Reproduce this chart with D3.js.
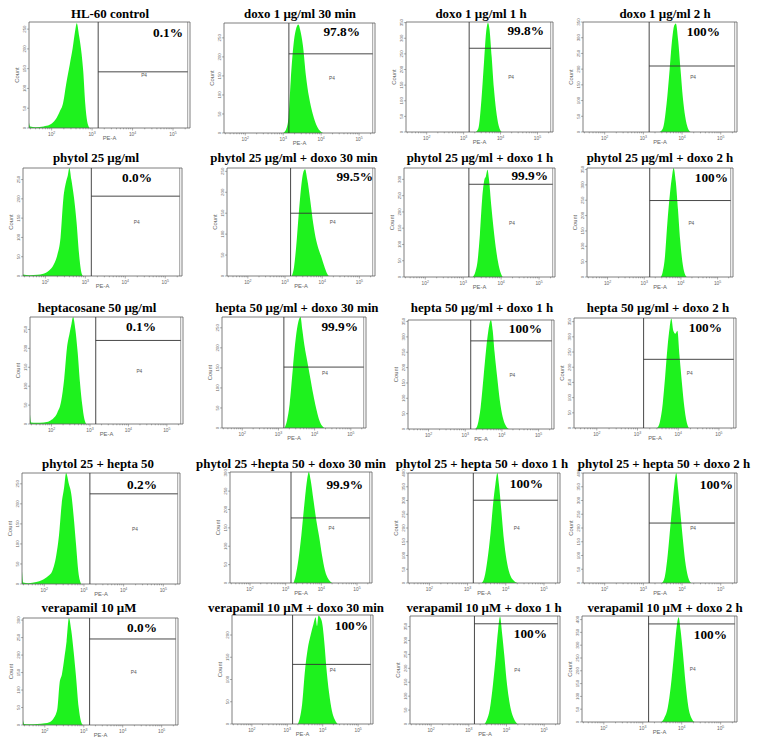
<!DOCTYPE html>
<html><head><meta charset="utf-8">
<script src="https://cdn.jsdelivr.net/npm/d3@7"></script>
<style>body{margin:0;background:#fff}svg{display:block}</style>
</head><body><svg id="c" width="757" height="748"></svg>
<script>
// ---------- data ----------
const titles = [
  "HL-60 control","doxo 1 \u00b5g/ml 30 min","doxo 1 \u00b5g/ml 1 h","doxo 1 \u00b5g/ml 2 h",
  "phytol 25 \u00b5g/ml","phytol 25 \u00b5g/ml + doxo 30 min","phytol 25 \u00b5g/ml + doxo 1 h","phytol 25 \u00b5g/ml + doxo 2 h",
  "heptacosane 50 \u00b5g/ml","hepta 50 \u00b5g/ml + doxo 30 min","hepta 50 \u00b5g/ml + doxo 1 h","hepta 50 \u00b5g/ml + doxo 2 h",
  "phytol 25 + hepta 50","phytol 25 +hepta 50 + doxo 30 min","phytol 25 + hepta 50 + doxo 1 h","phytol 25 + hepta 50 + doxo 2 h",
  "verapamil 10 \u00b5M","verapamil 10 \u00b5M + doxo 30 min","verapamil 10 \u00b5M + doxo 1 h","verapamil 10 \u00b5M + doxo 2 h"
];
const percents = ["0.1%","97.8%","99.8%","100%","0.0%","99.5%","99.9%","100%","0.1%","99.9%","100%","100%","0.2%","99.9%","100%","100%","0.0%","100%","100%","100%"];
const yMax = [268,289,352,350,280,258,335,355,283,277,355,362,277,302,400,400,306,245,388,414];
const gateLog = 3.15;                 // P4 gate lower bound (log10 PE-A)
const gateCount = [142,208,268,210,207,150,285,249,221,152,287,226,225,177,301,218,246,134,360,383];
const xDomainLog = [1.44, 5.42];      // PE-A axis range (log10)
const xTickExp = [2,3,4,5];
// histograms: [log10 PE-A, count]
const h11 = [[1.44,14],[1.47,4],[1.6,2],[1.8,4],[1.95,8],[2.1,22],[2.2,42],[2.28,62],[2.36,112],[2.45,162],[2.52,202],[2.58,245],[2.62,265],[2.68,232],[2.74,188],[2.78,145],[2.83,62],[2.88,16],[2.94,0]];
const h12 = [[3.0,0],[3.08,10],[3.14,40],[3.2,140],[3.27,230],[3.33,270],[3.4,285],[3.45,270],[3.52,230],[3.6,150],[3.68,95],[3.78,50],[3.9,16],[4.05,0]];
const h13 = [[3.33,0],[3.4,12],[3.48,100],[3.55,220],[3.61,320],[3.66,350],[3.7,330],[3.76,240],[3.82,140],[3.88,70],[3.95,20],[4.03,0]];
const h14 = [[3.42,0],[3.5,10],[3.6,90],[3.68,200],[3.74,290],[3.8,340],[3.84,345],[3.9,290],[3.96,200],[4.02,110],[4.08,50],[4.15,12],[4.22,0]];
const h21 = [[1.44,4],[1.6,2],[1.8,3],[1.95,6],[2.1,15],[2.2,28],[2.3,55],[2.38,100],[2.45,200],[2.52,245],[2.56,260],[2.6,280],[2.65,250],[2.72,200],[2.78,140],[2.84,60],[2.9,10],[2.94,0]];
const h22 = [[3.18,0],[3.24,20],[3.3,70],[3.38,160],[3.45,225],[3.5,250],[3.54,255],[3.6,230],[3.68,180],[3.76,125],[3.84,85],[3.92,60],[3.98,45],[4.05,25],[4.12,8],[4.18,0]];
const h23 = [[3.25,0],[3.32,15],[3.38,50],[3.44,130],[3.5,240],[3.56,300],[3.6,310],[3.64,330],[3.68,300],[3.74,220],[3.8,150],[3.86,90],[3.92,45],[3.98,15],[4.04,0]];
const h24 = [[3.45,0],[3.5,15],[3.56,60],[3.63,175],[3.7,270],[3.76,330],[3.8,355],[3.86,310],[3.92,220],[3.98,120],[4.04,50],[4.1,12],[4.16,0]];
const h31 = [[1.44,25],[1.47,4],[1.6,3],[1.8,4],[1.95,8],[2.05,15],[2.15,30],[2.25,60],[2.33,120],[2.4,200],[2.47,240],[2.52,265],[2.56,283],[2.62,250],[2.68,190],[2.74,110],[2.8,50],[2.85,15],[2.9,0]];
const h32 = [[3.17,0],[3.24,20],[3.31,60],[3.4,150],[3.48,225],[3.55,265],[3.61,277],[3.66,245],[3.72,205],[3.8,165],[3.88,125],[3.96,85],[4.04,50],[4.12,22],[4.2,6],[4.27,0]];
const h33 = [[3.27,0],[3.34,15],[3.42,70],[3.5,170],[3.57,260],[3.63,320],[3.7,355],[3.75,320],[3.8,250],[3.87,170],[3.94,95],[4.02,40],[4.1,12],[4.19,0]];
const h34 = [[3.48,0],[3.55,20],[3.62,80],[3.68,170],[3.74,270],[3.79,330],[3.83,360],[3.88,320],[3.93,310],[3.98,320],[4.03,240],[4.09,150],[4.15,70],[4.2,25],[4.26,0]];
const h41 = [[1.44,32],[1.47,4],[1.6,2],[1.8,5],[1.95,10],[2.1,20],[2.2,32],[2.3,70],[2.37,120],[2.44,200],[2.5,240],[2.55,277],[2.62,250],[2.68,225],[2.74,170],[2.8,100],[2.86,30],[2.93,0]];
const h42 = [[3.22,0],[3.28,20],[3.36,65],[3.44,130],[3.52,210],[3.6,280],[3.65,302],[3.7,280],[3.78,225],[3.86,170],[3.94,125],[4.02,75],[4.1,35],[4.2,10],[4.3,0]];
const h43 = [[3.37,0],[3.44,20],[3.52,85],[3.6,180],[3.67,290],[3.73,360],[3.78,400],[3.82,360],[3.88,270],[3.95,160],[4.02,85],[4.1,35],[4.2,10],[4.3,0]];
const h44 = [[3.48,0],[3.55,20],[3.62,90],[3.7,210],[3.76,300],[3.81,370],[3.85,400],[3.9,340],[3.96,250],[4.02,160],[4.08,80],[4.15,25],[4.24,0]];
const h51 = [[1.44,14],[1.47,3],[1.6,2],[1.8,3],[2.0,5],[2.12,8],[2.22,18],[2.32,45],[2.38,120],[2.44,145],[2.5,190],[2.56,240],[2.62,306],[2.68,270],[2.74,210],[2.8,140],[2.87,50],[2.93,10],[2.98,0]];
const h52 = [[3.3,0],[3.36,15],[3.42,45],[3.5,120],[3.58,170],[3.66,200],[3.74,225],[3.8,240],[3.84,220],[3.88,244],[3.94,238],[3.99,225],[4.05,180],[4.1,130],[4.18,70],[4.26,30],[4.34,10],[4.42,0]];
const h53 = [[3.42,0],[3.48,15],[3.56,55],[3.64,140],[3.72,250],[3.78,340],[3.83,386],[3.88,330],[3.94,250],[4.0,160],[4.06,95],[4.12,50],[4.2,18],[4.29,0]];
const h54 = [[3.48,0],[3.55,15],[3.64,55],[3.72,140],[3.8,260],[3.87,370],[3.92,409],[3.97,360],[4.03,270],[4.1,150],[4.17,60],[4.25,16],[4.33,0]];
const hists = [h11,h12,h13,h14,h21,h22,h23,h24,h31,h32,h33,h34,h41,h42,h43,h44,h51,h52,h53,h54];

// ---------- layout (pixel boxes: left, top, right, bottom) ----------
const boxes = [
  [29,22,190,128],[224,23,375,133],[406,22,553,132],[583,22,737,132],
  [23,168,182,276],[227,168,375,276],[404,168,555,277],[587,168,733,277],
  [30,317,183,424],[222,317,366,428],[408,320,554,429],[574,318,736,428],
  [22,473,180,584],[230,472,372,583],[408,473,560,583],[583,473,737,583],
  [23,618,178,725],[232,615,373,724],[410,616,560,724],[582,616,737,722]
];
const titlePos = [
  [110,18],[300,18],[481,18],[665,18],
  [96,162],[294,162],[480,162],[660,162],
  [97,312],[297,312],[482,312],[658,312],
  [98,468],[291,468],[482,468],[664,468],
  [89,612],[296,612],[484,612],[665,612]
];
const pctPos = [
  [183,37],[360,36],[544,35],[720,36],
  [152,182],[373,181],[548,180],[728,182],
  [156,331],[358,331],[542,333],[722,332],
  [157,489],[363,489],[543,488],[733,489],
  [157,632],[368,630],[547,638],[727,639]
];

const svg = d3.select("#c");
svg.append("rect").attr("width",757).attr("height",748).attr("fill","#fff");
const defs = svg.append("defs");

const GREEN = "#1ef21e", AX = "#5e5e5e", GATE = "#333";

hists.forEach((data, i) => {
  const [L,T,R,B] = boxes[i];
  const x = d3.scaleLog().domain(xDomainLog.map(v => 10**v)).range([L,R]);
  const y = d3.scaleLinear().domain([0,yMax[i]]).range([B,T]);
  const g = svg.append("g");

  defs.append("clipPath").attr("id","cp"+i).append("rect")
    .attr("x",L).attr("y",T).attr("width",R-L).attr("height",B-T);

  // histogram
  const area = d3.area().x(d => x(10**d[0])).y0(y(0)).y1(d => y(d[1])).curve(d3.curveMonotoneX);
  g.append("path").datum(data).attr("d",area).attr("fill",GREEN)
    .attr("clip-path","url(#cp"+i+")");

  // frame: top & right (double)
  g.append("line").attr("x1",L).attr("x2",R).attr("y1",T).attr("y2",T).attr("stroke",AX).attr("stroke-width",0.8);
  g.append("line").attr("x1",R).attr("x2",R).attr("y1",T).attr("y2",B).attr("stroke",AX).attr("stroke-width",0.8);
  g.append("line").attr("x1",R-2.3).attr("x2",R-2.3).attr("y1",T).attr("y2",B).attr("stroke",AX).attr("stroke-width",0.6);

  // x axis
  const xa = g.append("g").attr("transform",`translate(0,${B})`);
  xa.append("line").attr("x1",L).attr("x2",R).attr("stroke",AX).attr("stroke-width",0.8);
  const minor = [];
  for (let e = 1; e <= 5; e++) for (let m = 1; m <= 9; m++) {
    const v = m * 10**e;
    if (v >= 10**xDomainLog[0] && v <= 10**xDomainLog[1]) minor.push([v, m===1]);
  }
  xa.selectAll("line.mt").data(minor).join("line").attr("class","mt")
    .attr("x1",d=>x(d[0])).attr("x2",d=>x(d[0])).attr("y1",0).attr("y2",d=>d[1]?2.5:1.3)
    .attr("stroke",AX).attr("stroke-width",0.5);
  const tl = xa.selectAll("text.xt").data(xTickExp).join("text").attr("class","xt")
    .attr("x",d=>x(10**d)).attr("y",7.5).attr("text-anchor","middle")
    .attr("font-family","Liberation Sans, Arial, sans-serif").attr("font-size",4.8).attr("fill","#666");
  tl.append("tspan").text("10");
  tl.append("tspan").attr("dy",-1.8).attr("font-size",3.5).text(d=>d);
  xa.append("text").attr("x",(L+R)/2).attr("y",12).attr("text-anchor","middle")
    .attr("font-family","Liberation Sans, Arial, sans-serif").attr("font-size",5.8).attr("fill","#666").text("PE-A");

  // y axis
  const ya = g.append("g");
  ya.append("line").attr("x1",L).attr("x2",L).attr("y1",T).attr("y2",B).attr("stroke",AX).attr("stroke-width",0.8);
  const yt = d3.range(0, yMax[i]+1, 50);
  ya.selectAll("line.yt").data(yt).join("line").attr("class","yt")
    .attr("x1",L-2).attr("x2",L).attr("y1",d=>y(d)).attr("y2",d=>y(d)).attr("stroke",AX).attr("stroke-width",0.5);
  ya.selectAll("text.ytl").data(yt).join("text").attr("class","ytl")
    .attr("transform",d=>`translate(${L-3.5},${y(d)}) rotate(-90)`).attr("text-anchor","middle")
    .attr("font-family","Liberation Sans, Arial, sans-serif").attr("font-size",4.4).attr("fill","#666").text(d=>d);
  ya.append("text").attr("transform",`translate(${L-10},${(T+B)/2}) rotate(-90)`).attr("text-anchor","middle")
    .attr("font-family","Liberation Sans, Arial, sans-serif").attr("font-size",5.8).attr("fill","#666").text("Count");

  // gate P4
  const gx = x(10**gateLog), gy = y(gateCount[i]);
  g.append("line").attr("x1",gx).attr("x2",gx).attr("y1",T).attr("y2",B).attr("stroke",GATE).attr("stroke-width",0.9);
  g.append("line").attr("x1",gx).attr("x2",R-2.3).attr("y1",gy).attr("y2",gy).attr("stroke",GATE).attr("stroke-width",0.9);
  g.append("text").attr("x",(gx+R)/2).attr("y",(T+B)/2+2).attr("text-anchor","middle")
    .attr("font-family","Liberation Sans, Arial, sans-serif").attr("font-size",4.8).attr("fill","#555").text("P4");

  // title & percent
  g.append("text").attr("x",titlePos[i][0]).attr("y",titlePos[i][1]).attr("text-anchor","middle")
    .attr("font-family","Liberation Serif, Times New Roman, serif").attr("font-weight","bold")
    .attr("font-size",12.9).attr("fill","#000").text(titles[i]);
  g.append("text").attr("x",pctPos[i][0]).attr("y",pctPos[i][1]).attr("text-anchor","end")
    .attr("font-family","Liberation Serif, Times New Roman, serif").attr("font-weight","bold")
    .attr("font-size",13.3).attr("fill","#000").text(percents[i]);
});
</script></body></html>
